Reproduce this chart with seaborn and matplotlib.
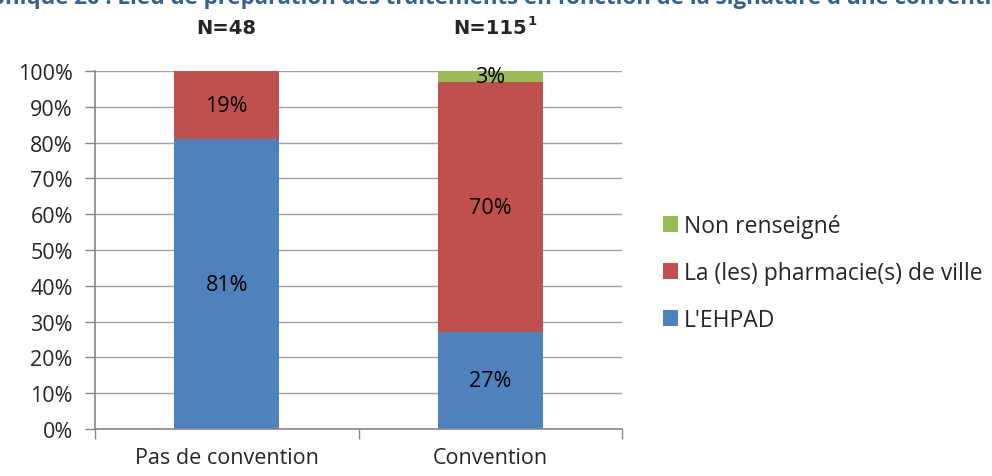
import matplotlib
matplotlib.use("Agg")
import matplotlib.pyplot as plt
from matplotlib.patches import Patch
import seaborn as sns
import pandas as pd
import numpy as np

# Data
categories = ["Pas de convention", "Convention"]
ehpad = [81, 27]
pharmacie = [19, 70]
non_renseigne = [0, 3]
effectifs = ["N=48", "N=115"]
series_names = ["L'EHPAD", "La (les) pharmacie(s) de ville", "Non renseigné"]
colors = ["#4F81BD", "#C0504D", "#9BBB59"]
title = "Graphique 20 : Lieu de préparation des traitements en fonction de la signature d'une convention"

sns.set_theme(style="white")
plt.rcParams["font.family"] = ["Open Sans", "DejaVu Sans"]

fig = plt.figure(figsize=(9.92, 4.77), dpi=100)
ax = fig.add_axes([95 / 992, 1 - 430 / 477, (622 - 95) / 992, (430 - 72) / 477])

layers = [np.array(ehpad), np.array(pharmacie), np.array(non_renseigne)]
cum = np.cumsum(layers, axis=0)

# Stacked bars: draw the tallest cumulative layer first
for i in reversed(range(3)):
    df = pd.DataFrame({"cat": categories, "val": cum[i]})
    sns.barplot(data=df, x="cat", y="val", color=colors[i], width=0.4,
                saturation=1, ax=ax, zorder=3, edgecolor="none", linewidth=0)

# Value labels centered in each segment
for i in range(3):
    bottoms = cum[i] - layers[i]
    for j, v in enumerate(layers[i]):
        if v > 0:
            ax.text(j, bottoms[j] + v / 2, f"{v}%", ha="center", va="center",
                    fontsize=15.5, color="black", zorder=5)

ax.set_xlim(-0.5, 1.5)
ax.set_ylim(0, 100)
ax.set_yticks(np.arange(0, 101, 10))
ax.set_yticklabels([f"{t}%" for t in range(0, 101, 10)], fontsize=15.5)
ax.set_xticks([-0.5, 0.5, 1.5])
ax.set_xticklabels([])
ax.set_xticks([0, 1], minor=True)
ax.set_xticklabels(categories, minor=True, fontsize=15.5)
ax.tick_params(axis="x", which="minor", bottom=False, length=0, pad=13)
ax.tick_params(axis="x", which="major", bottom=True, length=7, color="#868686",
               width=1, direction="out")
ax.tick_params(axis="y", left=True, length=7, color="#868686", width=1,
               direction="out", pad=9)
ax.set_xlabel("")
ax.set_ylabel("")
ax.grid(axis="y", color="#A3A3A3", linewidth=1, zorder=0)
ax.set_axisbelow(True)
for s in ["top", "right"]:
    ax.spines[s].set_visible(False)
for s in ["left", "bottom"]:
    ax.spines[s].set_color("#868686")
    ax.spines[s].set_linewidth(1.2)
    ax.spines[s].set_zorder(4)

# Sample sizes above the bars
trans = matplotlib.transforms.blended_transform_factory(ax.transData, fig.transFigure)
nfont = dict(family=["Liberation Sans Narrow", "DejaVu Sans"], fontweight="bold", fontsize=14)
ax.text(0, 1 - 29 / 477, effectifs[0], transform=trans, ha="center", va="center", **nfont)
t2 = ax.text(1, 1 - 29 / 477, effectifs[1], transform=trans, ha="center", va="center", **nfont)
fig.canvas.draw()
bb = t2.get_window_extent()
fig.text(bb.x1 / fig.bbox.width + 0.001, bb.y1 / fig.bbox.height - 0.005, "1",
         ha="left", va="center", family=["Liberation Sans Narrow", "DejaVu Sans"],
         fontweight="bold", fontsize=9.5)

# Title, running past the figure edges
fig.text(486 / 992, 1.004, title, ha="center", va="center", fontsize=16,
         fontweight="bold", color="#376092")

# Legend (reverse order: green on top)
handles = [Patch(facecolor=colors[i], edgecolor="none") for i in reversed(range(3))]
labels = [series_names[i] for i in reversed(range(3))]
leg = fig.legend(handles, labels, loc="center left", bbox_to_anchor=(654 / 992, 1 - 274 / 477),
                 frameon=False, fontsize=16.5, handlelength=0.65, handleheight=0.65,
                 handletextpad=0.25, labelspacing=1.0, borderaxespad=0)

fig.savefig("out.png", dpi=100)
